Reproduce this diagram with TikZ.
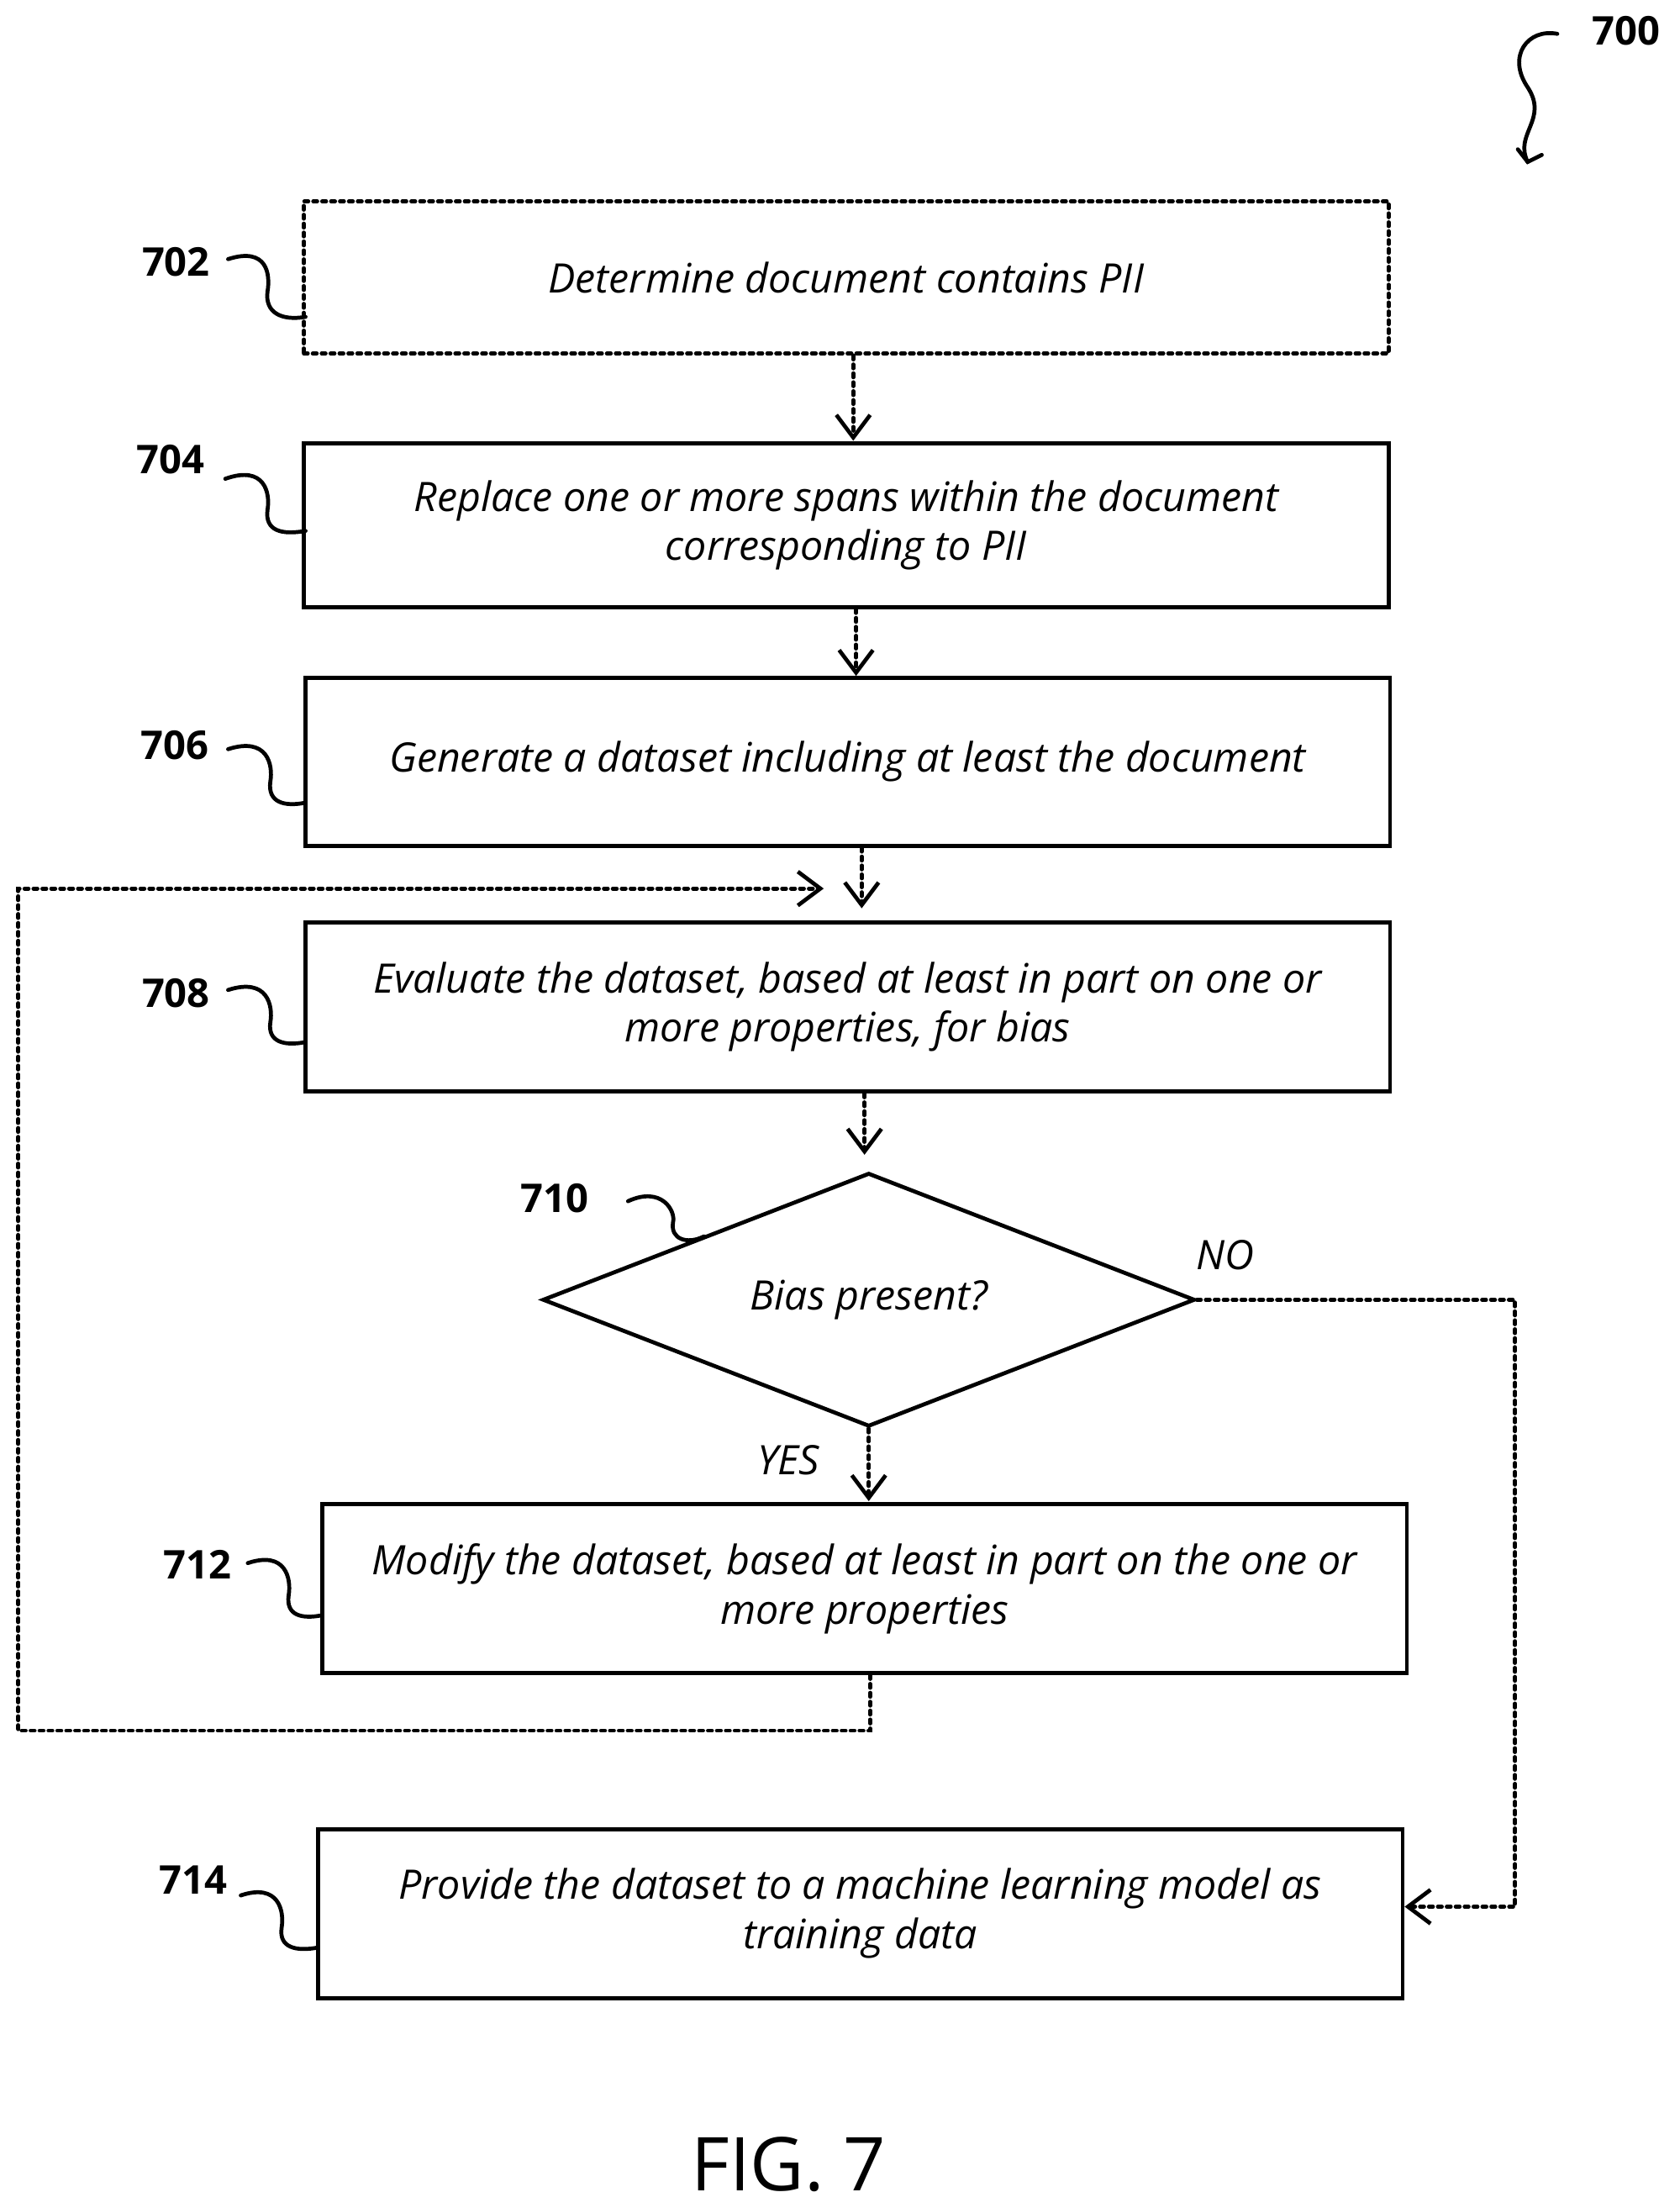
\documentclass[tikz,border=0pt]{standalone}
\usepackage{fontspec}
\setmainfont{Open Sans}
\usetikzlibrary{arrows.meta,shapes.geometric}

\begin{document}
\begin{tikzpicture}[x=0.01cm,y=-0.01cm,thick,line cap=round]
	\tikzstyle{stepbox}=[draw,thick,minimum width=7.7cm,minimum height=1.18cm,align=center,font=\fontsize{8.2}{10}\selectfont\itshape,inner sep=0pt];
	\tikzstyle{ref}=[font=\fontsize{8}{10}\selectfont\bfseries];
	\tikzstyle{flow}=[densely dotted,thick,-{Straight Barb[length=1.6mm,width=2.4mm]}];
	\tikzstyle{squig}=[thick];

	\useasboundingbox (0,0) rectangle (1193,1568);

	\node[stepbox,densely dotted,minimum height=1.08cm] (b702) at (601,197) {Determine document contains PII};
	\node[stepbox,minimum height=1.16cm] (b704) at (601,373) {Replace one or more spans within the document\\corresponding to PII};
	\node[stepbox,minimum height=1.19cm] (b706) at (602,541) {Generate a dataset including at least the document};
	\node[stepbox,minimum height=1.2cm] (b708) at (602,715) {Evaluate the dataset, based at least in part on one or\\more properties, for bias};
	\node[draw,thick,diamond,aspect=2.57,minimum width=4.63cm,minimum height=1.8cm,inner sep=0pt,font=\fontsize{8.2}{10}\selectfont\itshape] (d710) at (617,923) {Bias present?};
	\node[stepbox,minimum height=1.2cm] (b712) at (614,1128) {Modify the dataset, based at least in part on the one or\\more properties};
	\node[stepbox,minimum height=1.2cm] (b714) at (611,1359) {Provide the dataset to a machine learning model as\\training data};

	\draw[flow] (b702.south -| 606,0) -- (606,313);
	\draw[flow] (b704.south -| 608,0) -- (608,480);
	\draw[flow] (b706.south -| 612,0) -- (612,645);
	\draw[flow] (b708.south -| 614,0) -- (614,820);
	\draw[flow] (d710.south) -- (617,1066);
	\draw[flow] (d710.east) -- (1076,923) -- (1076,1354) -- (b714.east |- 0,1354);
	\coordinate (loop) at (585,631);
	\draw[flow] (b712.south -| 618,0) -- (618,1229) -- (13,1229) -- (13,631) -- (loop);

	\node[font=\fontsize{8.2}{10}\selectfont\itshape] (yes) at (560,1037) {YES};
	\node[font=\fontsize{8.2}{10}\selectfont\itshape] (no) at (870,891) {NO};

	% reference numerals
	\node[ref] (n700) at (1155,22) {700};
	\node[ref] (n702) at (125,186) {702};
	\node[ref] (n704) at (121,326) {704};
	\node[ref] (n706) at (124,529) {706};
	\node[ref] (n708) at (125,705) {708};
	\node[ref] (n710) at (394,851) {710};
	\node[ref] (n712) at (140,1111) {712};
	\node[ref] (n714) at (137,1335) {714};

	\draw[squig] (1106,24) .. controls (1085,20) and (1070,40) .. (1085,62) .. controls (1100,85) and (1075,95) .. (1085,115);
	\draw[squig] (1078,106) -- (1085,115) -- (1095,110);
	\draw[squig] (162,184) .. controls (190,175) and (192,195) .. (190,207) .. controls (188,222) and (200,228) .. (217,225);
	\draw[squig] (160,340) .. controls (188,330) and (192,350) .. (190,362) .. controls (188,377) and (200,380) .. (217,377);
	\draw[squig] (162,532) .. controls (190,523) and (194,543) .. (192,555) .. controls (190,570) and (202,573) .. (217,570);
	\draw[squig] (162,703) .. controls (190,694) and (194,714) .. (192,726) .. controls (190,740) and (202,743) .. (217,740);
	\draw[squig] (446,853) .. controls (470,842) and (480,860) .. (478,868) .. controls (476,880) and (488,884) .. (500,878);
	\draw[squig] (176,1110) .. controls (203,1101) and (207,1121) .. (205,1133) .. controls (203,1147) and (214,1150) .. (229,1147);
	\draw[squig] (171,1346) .. controls (198,1337) and (202,1357) .. (200,1369) .. controls (198,1383) and (210,1386) .. (226,1383);

	\node[font=\fontsize{15}{18}\selectfont] (fig) at (560,1537) {FIG. 7};
\end{tikzpicture}
\end{document}
